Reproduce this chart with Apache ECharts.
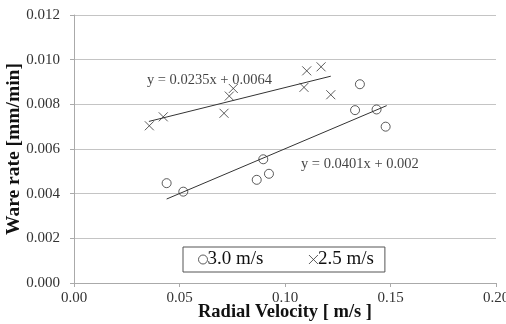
<!DOCTYPE html>
<html>
<head>
<meta charset="utf-8">
<script src="https://cdn.jsdelivr.net/npm/echarts@6/dist/echarts.min.js"></script>
<style>
  html, body { margin: 0; padding: 0; background: #fff; }
  #chart { width: 506px; height: 324px; }
</style>
</head>
<body>
<div id="chart"></div>
<script>
// 3.0 m/s measurements
const v30X = [0.0439, 0.0518, 0.0866, 0.0897, 0.0924, 0.1332, 0.1355, 0.1434, 0.1477]
const v30Y = [0.00447, 0.00409, 0.00462, 0.00554, 0.00489, 0.00774, 0.0089, 0.00777, 0.0070]
// 2.5 m/s measurements
const v25X = [0.0357, 0.0423, 0.0711, 0.0736, 0.0755, 0.109, 0.1103, 0.1171, 0.1217]
const v25Y = [0.00704, 0.00744, 0.0076, 0.00837, 0.00871, 0.00876, 0.0095, 0.00968, 0.00843]

// linear fits: [slope, intercept], drawn over the measured x range
const fit30 = [0.0401, 0.002]
const fit25 = [0.0235, 0.0064]
const fit30Range = [0.0439, 0.1482]
const fit25Range = [0.0355, 0.1217]

const eqLabels = ['y = 0.0235x + 0.0064', 'y = 0.0401x + 0.002']
const eqPos = [[0.0642, 0.00908], [0.1355, 0.00533]]

const serif = 'Liberation Serif, Times New Roman, serif'
const ink = '#333'

const zip = (xs, ys) => xs.map((x, i) => [x, ys[i]])
const fitLine = (f, r) => r.map(x => [x, f[0] * x + f[1]])

const crossPath = 'path://M0,0L10,10M10,0L0,10'

const chart = echarts.init(document.getElementById('chart'))

const option = {
  animation: false,
  grid: { left: 74, right: 10, top: 15, bottom: 41, outerBoundsMode: 'none', containLabel: false },
  legend: {
    left: 183,
    top: 247,
    padding: [3, 11, 3, 15],
    itemGap: 43,
    itemWidth: 9,
    itemHeight: 9,
    borderColor: '#555',
    borderWidth: 1,
    textStyle: { fontFamily: serif, fontSize: 19, color: '#111', padding: [0, 0, 0, -5] },
    data: [
      { name: '3.0 m/s', icon: 'circle', itemStyle: { color: 'transparent', borderColor: ink, borderWidth: 1 } },
      { name: '2.5 m/s', icon: crossPath, itemStyle: { color: 'none', borderColor: ink, borderWidth: 1 } }
    ]
  },
  xAxis: {
    type: 'value',
    min: 0,
    max: 0.2,
    interval: 0.05,
    name: 'Radial Velocity [ m/s ]',
    nameLocation: 'middle',
    nameGap: 20,
    nameMoveOverlap: false,
    nameTextStyle: { fontFamily: serif, fontSize: 18.5, fontWeight: 'bold', color: '#111' },
    axisLine: { show: true, lineStyle: { color: '#aaa' } },
    axisTick: { show: true, length: 4, lineStyle: { color: '#aaa' } },
    axisLabel: { fontFamily: serif, fontSize: 15, color: '#333', margin: 8, formatter: v => v.toFixed(2) },
    splitLine: { show: false }
  },
  yAxis: {
    type: 'value',
    min: 0,
    max: 0.012,
    interval: 0.002,
    name: 'Ware rate [mm/min]',
    nameLocation: 'middle',
    nameGap: 50,
    nameMoveOverlap: false,
    nameTextStyle: { fontFamily: serif, fontSize: 19.5, fontWeight: 'bold', color: '#111' },
    axisLine: { show: true, lineStyle: { color: '#aaa' } },
    axisTick: { show: true, length: 4, lineStyle: { color: '#aaa' } },
    axisLabel: { fontFamily: serif, fontSize: 15, color: '#333', margin: 14, formatter: v => v.toFixed(3) },
    splitLine: { show: true, lineStyle: { color: '#c4c4c4' } }
  },
  series: [
    {
      name: '3.0 m/s',
      type: 'scatter',
      symbol: 'circle',
      symbolSize: 9,
      itemStyle: { color: 'transparent', borderColor: ink, borderWidth: 1 },
      data: zip(v30X, v30Y),
      z: 3
    },
    {
      name: '2.5 m/s',
      type: 'scatter',
      symbol: crossPath,
      symbolSize: 9,
      itemStyle: { color: 'none', borderColor: ink, borderWidth: 1 },
      data: zip(v25X, v25Y),
      z: 3
    },
    {
      type: 'line',
      symbol: 'none',
      lineStyle: { color: ink, width: 1 },
      data: fitLine(fit30, fit30Range),
      z: 2
    },
    {
      type: 'line',
      symbol: 'none',
      lineStyle: { color: ink, width: 1 },
      data: fitLine(fit25, fit25Range),
      z: 2
    },
    {
      type: 'scatter',
      symbolSize: 0,
      silent: true,
      label: {
        show: true,
        position: 'inside',
        fontFamily: serif,
        fontSize: 14.5,
        color: '#111',
        formatter: p => eqLabels[p.dataIndex]
      },
      data: eqPos
    }
  ]
}

chart.setOption(option)
</script>
</body>
</html>
